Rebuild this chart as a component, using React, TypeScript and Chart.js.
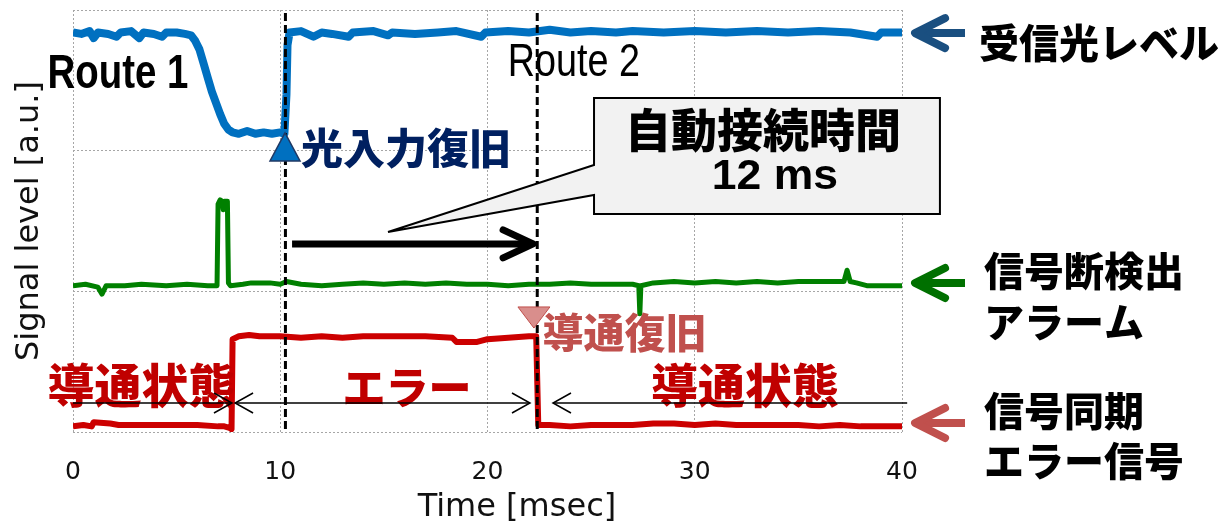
import { useEffect, useRef } from "react";
import { Chart, registerables } from "chart.js";

Chart.register(...registerables);

// ---- tick labels ----
const xTickValues = [0, 10, 20, 30, 40];
const xAxisTitle = "Time [msec]";
const yAxisTitle = "Signal level [a.u.]";

// ---- received optical level (blue) ----
const blueTime = [0, 0.4, 0.8, 1.0, 1.2, 1.7, 2.1, 2.3, 2.8, 3.2, 3.4, 3.9, 4.3, 4.5, 5.0, 5.4, 5.7, 5.9, 6.1, 6.3, 6.5, 6.7, 6.9, 7.1, 7.3, 7.5, 7.7, 8.0, 8.4, 8.8, 9.2, 9.6, 10.0, 10.2, 10.3, 10.35, 10.45, 11.0, 11.6, 12.0, 12.5, 13.3, 13.5, 14.5, 15.2, 15.4, 16.5, 17.6, 18.5, 19.7, 19.9, 21.0, 22.0, 23.0, 24.0, 25.0, 26.2, 27.0, 28.5, 30.0, 31.5, 33.0, 34.5, 36.0, 37.5, 38.8, 39.0, 40.0];
const blueLevel = [2.84, 2.83, 2.85, 2.80, 2.84, 2.83, 2.81, 2.84, 2.85, 2.80, 2.84, 2.83, 2.81, 2.84, 2.84, 2.83, 2.82, 2.78, 2.72, 2.62, 2.52, 2.42, 2.34, 2.26, 2.19, 2.15, 2.13, 2.12, 2.14, 2.12, 2.13, 2.12, 2.13, 2.12, 2.40, 2.75, 2.84, 2.85, 2.81, 2.84, 2.83, 2.81, 2.84, 2.85, 2.82, 2.84, 2.83, 2.84, 2.85, 2.81, 2.84, 2.85, 2.84, 2.86, 2.84, 2.85, 2.84, 2.85, 2.84, 2.85, 2.84, 2.85, 2.84, 2.85, 2.84, 2.81, 2.84, 2.84];

// ---- loss-of-signal alarm (green) ----
const greenTime = [0, 0.6, 1.2, 1.4, 1.6, 2.5, 3.3, 4.5, 5.5, 6.5, 6.95, 7.0, 7.1, 7.2, 7.25, 7.3, 7.45, 7.5, 7.6, 8.2, 8.6, 9.5, 10.0, 10.3, 11.0, 12.0, 13.0, 14.0, 15.0, 16.0, 17.0, 18.0, 19.0, 20.0, 21.0, 22.0, 23.0, 24.0, 25.0, 26.0, 27.0, 27.3, 27.35, 27.4, 28.0, 29.0, 30.0, 31.0, 32.0, 33.0, 34.0, 35.0, 36.0, 37.2, 37.35, 37.5, 37.8, 38.3, 39.0, 40.0];
const greenLevel = [1.04, 1.05, 1.03, 0.98, 1.04, 1.04, 1.05, 1.04, 1.05, 1.04, 1.04, 1.62, 1.65, 1.64, 1.58, 1.64, 1.64, 1.06, 1.04, 1.05, 1.06, 1.06, 1.05, 1.07, 1.05, 1.04, 1.05, 1.06, 1.05, 1.06, 1.05, 1.06, 1.05, 1.05, 1.04, 1.05, 1.05, 1.06, 1.05, 1.05, 1.05, 1.04, 0.84, 1.04, 1.06, 1.07, 1.06, 1.07, 1.06, 1.07, 1.06, 1.07, 1.07, 1.07, 1.15, 1.07, 1.06, 1.04, 1.04, 1.04];

// ---- sync error signal (red) ----
const redTime = [0, 0.5, 0.9, 1.0, 1.8, 2.2, 3.0, 4.0, 5.0, 6.0, 7.0, 7.3, 7.55, 7.65, 7.7, 8.0, 8.5, 9.0, 10.0, 11.0, 12.0, 13.0, 14.0, 15.0, 16.0, 17.0, 18.3, 18.5, 19.5, 20.0, 21.0, 22.0, 22.35, 22.45, 23.0, 24.0, 25.0, 26.0, 27.0, 28.0, 29.0, 30.0, 31.0, 32.0, 33.0, 34.0, 35.0, 36.0, 37.0, 38.0, 39.0, 40.0];
const redLevel = [0.04, 0.05, 0.04, 0.07, 0.06, 0.05, 0.05, 0.05, 0.05, 0.05, 0.04, 0.04, 0.03, 0.02, 0.66, 0.68, 0.69, 0.68, 0.68, 0.67, 0.68, 0.67, 0.68, 0.68, 0.68, 0.68, 0.67, 0.64, 0.64, 0.66, 0.67, 0.68, 0.68, 0.05, 0.05, 0.04, 0.05, 0.05, 0.05, 0.06, 0.06, 0.05, 0.06, 0.05, 0.05, 0.05, 0.05, 0.04, 0.05, 0.04, 0.04, 0.04];

// ---- annotation texts ----
const seriesNames = ["受信光レベル", "信号断検出", "アラーム", "信号同期", "エラー信号"];
const routeLabels = ["Route 1", "Route 2"];
const eventLabels = ["光入力復旧", "導通復旧"];
const stateLabels = ["導通状態", "エラー", "導通状態"];
const calloutLines = ["自動接続時間", "12 ms"];
const switchTimes = [10.25, 22.4];

const JP = '"Noto Sans CJK JP", sans-serif';

const mk = (t: number[], v: number[]) => t.map((x, i) => ({ x, y: v[i] }));

const annotPlugin = {
  id: "annot",
  afterDraw(chart: any) {
    const { ctx, chartArea: ca, scales } = chart;
    const X = (v: number) => scales.x.getPixelForValue(v);
    const Y = (v: number) => scales.y.getPixelForValue(v);
    const text = (s: string, px: number, py: number, font: string, color: string, align: CanvasTextAlign = "left", sx = 1) => {
      ctx.save();
      ctx.font = font;
      ctx.fillStyle = color;
      ctx.textAlign = align;
      ctx.textBaseline = "middle";
      ctx.translate(px, py);
      ctx.scale(sx, 1);
      ctx.fillText(s, 0, 0);
      ctx.restore();
    };
    ctx.save();

    // Route labels
    text(routeLabels[0], X(2.17), Y(2.54), 'bold 48px "Liberation Sans", Arial, sans-serif', "#000", "center", 0.8);
    text(routeLabels[1], X(24.17), Y(2.62), '46px "Liberation Sans", Arial, sans-serif', "#000", "center", 0.82);

    // dashed switch lines
    ctx.strokeStyle = "#000";
    ctx.lineWidth = 3;
    ctx.setLineDash([8, 4]);
    for (const t of switchTimes) {
      ctx.beginPath();
      ctx.moveTo(X(t), ca.top + 3);
      ctx.lineTo(X(t), ca.bottom);
      ctx.stroke();
    }
    ctx.setLineDash([]);

    // up triangle (optical input restored)
    {
      const cx = X(10.23), tip = Y(2.126), base = Y(1.927);
      ctx.beginPath();
      ctx.moveTo(cx, tip);
      ctx.lineTo(cx + 15, base);
      ctx.lineTo(cx - 15, base);
      ctx.closePath();
      ctx.fillStyle = "#0070C0";
      ctx.fill();
      ctx.lineWidth = 1.5;
      ctx.strokeStyle = "#1F3864";
      ctx.stroke();
    }
    text(eventLabels[0], X(11.0), Y(2.02), `900 42px ${JP}`, "#002060");

    // down triangle (conduction restored)
    {
      const cx = X(22.24), base = Y(0.889), tip = Y(0.739);
      ctx.beginPath();
      ctx.moveTo(cx - 16, base);
      ctx.lineTo(cx + 16, base);
      ctx.lineTo(cx, tip);
      ctx.closePath();
      ctx.fillStyle = "#D98E8C";
      ctx.fill();
      ctx.lineWidth = 1;
      ctx.strokeStyle = "#C0504D";
      ctx.stroke();
    }
    text(eventLabels[1], X(22.65), Y(0.711), `900 41px ${JP}`, "#C0504D");

    // callout box
    {
      const l = X(25.14), r = X(41.83), t = Y(2.374), b = Y(1.55);
      const p1 = Y(1.898), p2 = Y(1.685);
      const tx = X(15.2), ty = Y(1.422);
      ctx.beginPath();
      ctx.moveTo(l, t);
      ctx.lineTo(r, t);
      ctx.lineTo(r, b);
      ctx.lineTo(l, b);
      ctx.lineTo(l, p2);
      ctx.lineTo(tx, ty);
      ctx.lineTo(l, p1);
      ctx.closePath();
      ctx.fillStyle = "#F2F2F2";
      ctx.fill();
      ctx.lineWidth = 2;
      ctx.strokeStyle = "#000";
      ctx.lineJoin = "miter";
      ctx.stroke();
      text(calloutLines[0], (l + r) / 2 - 4, Y(2.15), `900 46px ${JP}`, "#000", "center");
      text(calloutLines[1], (l + r) / 2 + 8, Y(1.81), 'bold 42px "Liberation Sans", Arial, sans-serif', "#000", "center", 1.06);
    }

    // thick arrow (12 ms)
    {
      const x1 = X(10.57), x2 = X(22.2), yy = Y(1.337);
      ctx.strokeStyle = "#000";
      ctx.lineWidth = 7;
      ctx.lineCap = "butt";
      ctx.beginPath();
      ctx.moveTo(x1, yy);
      ctx.lineTo(x2 - 4, yy);
      ctx.stroke();
      ctx.lineCap = "round";
      ctx.lineJoin = "round";
      ctx.beginPath();
      ctx.moveTo(x2 - 30, yy - 14);
      ctx.lineTo(x2, yy);
      ctx.lineTo(x2 - 30, yy + 14);
      ctx.stroke();
    }

    // state labels
    text(stateLabels[0], X(3.3), Y(0.334), `900 47px ${JP}`, "#C00000", "center");
    text(stateLabels[1], X(16.12), Y(0.313), `900 43px ${JP}`, "#C00000", "center");
    text(stateLabels[2], X(32.42), Y(0.334), `900 47px ${JP}`, "#C00000", "center");

    // thin state arrows
    {
      const yy = Y(0.206);
      ctx.strokeStyle = "#000";
      ctx.lineWidth = 1.5;
      ctx.lineCap = "butt";
      ctx.lineJoin = "miter";
      const line = (a: number, b: number) => {
        ctx.beginPath();
        ctx.moveTo(a, yy);
        ctx.lineTo(b, yy);
        ctx.stroke();
      };
      const head = (x: number, dir: number) => {
        ctx.beginPath();
        ctx.moveTo(x - dir * 18, yy - 10);
        ctx.lineTo(x, yy);
        ctx.lineTo(x - dir * 18, yy + 10);
        ctx.stroke();
      };
      line(X(0), X(7.67));
      head(X(7.67), 1);
      line(X(7.82), X(22.05));
      head(X(7.82), -1);
      head(X(22.05), 1);
      line(X(23.16), X(40.25));
      head(X(23.16), -1);
    }

    // right side series arrows + labels
    {
      const arrow = (yv: number, color: string) => {
        const tip = X(40.63), tail = X(43.04), yy = Y(yv);
        ctx.strokeStyle = color;
        ctx.lineWidth = 8;
        ctx.lineCap = "butt";
        ctx.beginPath();
        ctx.moveTo(tip + 4, yy);
        ctx.lineTo(tail, yy);
        ctx.stroke();
        ctx.lineCap = "round";
        ctx.lineJoin = "round";
        ctx.beginPath();
        ctx.moveTo(tip + 30, yy - 15);
        ctx.lineTo(tip, yy);
        ctx.lineTo(tip + 30, yy + 15);
        ctx.stroke();
      };
      arrow(2.836, "#1A4F80");
      arrow(1.059, "#007000");
      arrow(0.064, "#C0504D");
      const f = `900 40px ${JP}`;
      text(seriesNames[0], X(43.72), Y(2.765), f, "#000");
      text(seriesNames[1], X(43.96), Y(1.145), f, "#000");
      text(seriesNames[2], X(43.96), Y(0.782), f, "#000");
      text(seriesNames[3], X(43.96), Y(0.149), f, "#000");
      text(seriesNames[4], X(43.96), Y(-0.206), f, "#000");
    }

    // axis titles
    text(xAxisTitle, X(21.42), ca.bottom + 76, '32px "DejaVu Sans", sans-serif', "#111", "center");
    ctx.save();
    ctx.translate(30, (ca.top + ca.bottom) / 2);
    ctx.rotate(-Math.PI / 2);
    ctx.font = '32px "DejaVu Sans", sans-serif';
    ctx.fillStyle = "#111";
    ctx.textAlign = "center";
    ctx.textBaseline = "middle";
    ctx.fillText(yAxisTitle, 0, 0);
    ctx.restore();

    ctx.restore();
  },
};

export default function App() {
  const ref = useRef<HTMLCanvasElement | null>(null);
  useEffect(() => {
    if (!ref.current) return;
    const gridOpts = { color: "#A6A6A6", lineWidth: 1, drawTicks: false };
    const chart = new Chart(ref.current, {
      type: "line",
      data: {
        datasets: [
          { label: "受信光レベル", data: mk(blueTime, blueLevel), borderColor: "#0070C0", borderWidth: 8, pointRadius: 0, tension: 0, borderJoinStyle: "round" },
          { label: "信号断検出アラーム", data: mk(greenTime, greenLevel), borderColor: "#008000", borderWidth: 5, pointRadius: 0, tension: 0, borderJoinStyle: "round" },
          { label: "信号同期エラー信号", data: mk(redTime, redLevel), borderColor: "#CC0000", borderWidth: 6, pointRadius: 0, tension: 0, borderJoinStyle: "round" },
        ],
      },
      options: {
        responsive: false,
        animation: false,
        layout: { padding: { left: 0, right: 321, top: 10, bottom: 0 } },
        plugins: { legend: { display: false }, tooltip: { enabled: false } },
        scales: {
          x: {
            type: "linear",
            min: 0,
            max: 40,
            afterBuildTicks: (s: any) => {
              s.ticks = xTickValues.map((v) => ({ value: v }));
            },
            afterFit: (s: any) => {
              s.height = 96;
            },
            grid: gridOpts,
            border: { display: false, dash: [2, 2] },
            ticks: { color: "#111", padding: 25, font: { family: '"DejaVu Sans", sans-serif', size: 25 }, maxRotation: 0 },
          },
          y: {
            type: "linear",
            min: 0,
            max: 3,
            ticks: { display: false, stepSize: 1 },
            afterFit: (s: any) => {
              s.width = 73;
            },
            grid: gridOpts,
            border: { display: false, dash: [2, 2] },
          },
        },
      },
      plugins: [annotPlugin],
    } as any);
    return () => chart.destroy();
  }, []);
  return (
    <div style={{ position: "absolute", left: 0, top: 0, width: 1223, height: 528, background: "#fff" }}>
      <canvas ref={ref} width={1223} height={528} />
    </div>
  );
}
